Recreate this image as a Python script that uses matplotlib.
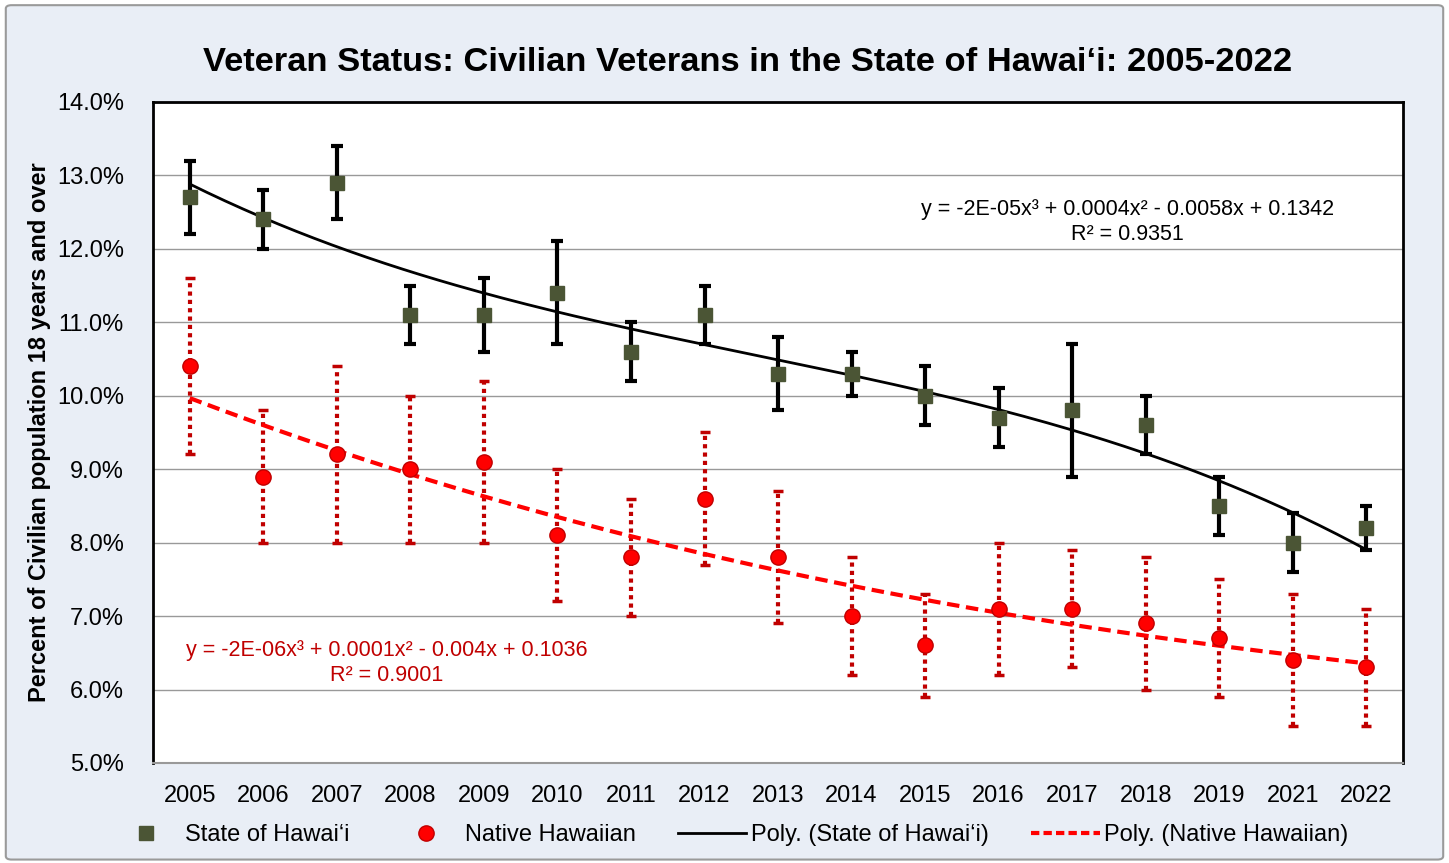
import numpy as np
import matplotlib.pyplot as plt
from matplotlib.lines import Line2D
from matplotlib.patches import FancyBboxPatch

plt.rcParams['font.family'] = ['Liberation Sans', 'DejaVu Sans']

"""
Data (percent of civilian population 18+ who are veterans)
"""
years = ['2005', '2006', '2007', '2008', '2009', '2010', '2011', '2012', '2013',
         '2014', '2015', '2016', '2017', '2018', '2019', '2021', '2022']

state = [12.7, 12.4, 12.9, 11.1, 11.1, 11.4, 10.6, 11.1, 10.3, 10.3, 10.0, 9.7,
         9.8, 9.6, 8.5, 8.0, 8.2]
state_hi = [13.2, 12.8, 13.4, 11.5, 11.6, 12.1, 11.0, 11.5, 10.8, 10.6, 10.4, 10.1,
            10.7, 10.0, 8.9, 8.4, 8.5]
state_lo = [12.2, 12.0, 12.4, 10.7, 10.6, 10.7, 10.2, 10.7, 9.8, 10.0, 9.6, 9.3,
            8.9, 9.2, 8.1, 7.6, 7.9]

native = [10.4, 8.9, 9.2, 9.0, 9.1, 8.1, 7.8, 8.6, 7.8, 7.0, 6.6, 7.1, 7.1, 6.9,
          6.7, 6.4, 6.3]
native_hi = [11.6, 9.8, 10.4, 10.0, 10.2, 9.0, 8.6, 9.5, 8.7, 7.8, 7.3, 8.0, 7.9,
             7.8, 7.5, 7.3, 7.1]
native_lo = [9.2, 8.0, 8.0, 8.0, 8.0, 7.2, 7.0, 7.7, 6.9, 6.2, 5.9, 6.2, 6.3, 6.0,
             5.9, 5.5, 5.5]

yticks = [5, 6, 7, 8, 9, 10, 11, 12, 13, 14]

state_eq = 'y = -2E-05x³ + 0.0004x² - 0.0058x + 0.1342\nR² = 0.9351'
native_eq = 'y = -2E-06x³ + 0.0001x² - 0.004x + 0.1036\nR² = 0.9001'

"""
Figure
"""
bg = '#E9EEF6'
olive = '#4B5535'
red = '#FF0000'
dkred = '#C00000'

fig = plt.figure(figsize=(14.49, 8.63), dpi=100)
fig.patch.set_facecolor('white')
frame = FancyBboxPatch((0.004, 0.004), 0.992, 0.990, boxstyle='round,pad=0,rounding_size=0.004',
                       transform=fig.transFigure, facecolor=bg, edgecolor='#9A9A9A',
                       linewidth=1.5, zorder=-10)
fig.patches.append(frame)

ax = fig.add_axes([0.1056, 0.1159, 0.8627, 0.766])
ax.set_facecolor('white')

x = np.arange(len(years))
s = np.array(state)
n = np.array(native)

# error bars
ax.errorbar(x, s, yerr=[s - np.array(state_lo), np.array(state_hi) - s], fmt='none',
            ecolor='black', elinewidth=3, capsize=4.5, capthick=3, zorder=3)
eb = ax.errorbar(x, n, yerr=[n - np.array(native_lo), np.array(native_hi) - n], fmt='none',
                 ecolor=dkred, elinewidth=3, capsize=3.5, capthick=2.5, zorder=3)
for lc in eb[2]:
    lc.set_linestyle((0, (1, 1)))

# cubic trendlines (Excel style, x = 1..17)
xp = np.arange(1, len(years) + 1)
xs = np.linspace(1, len(years), 200)
ps = np.polyfit(xp, s, 3)
pn = np.polyfit(xp, n, 3)
ax.plot(xs - 1, np.polyval(ps, xs), color='black', lw=2, zorder=4)
ax.plot(xs - 1, np.polyval(pn, xs), color=red, lw=3, ls=(0, (3, 1.6)), zorder=4)

# markers
ax.plot(x, s, ls='none', marker='s', ms=10.5, color=olive, zorder=5)
ax.plot(x, n, ls='none', marker='o', ms=11, color=red, mec=dkred, mew=1, zorder=5)

ax.set_xlim(-0.5, len(years) - 0.5)
ax.set_ylim(5, 14)
ax.set_yticks(yticks)
ax.set_yticklabels(['%.1f%%' % v for v in yticks])
ax.set_xticks(x)
ax.set_xticklabels(years)
ax.tick_params(axis='both', length=0, labelsize=17)
ax.tick_params(axis='x', pad=16)
ax.tick_params(axis='y', pad=21)
ax.grid(axis='y', color='#999999', lw=1)
ax.set_axisbelow(True)
for sp in ['left', 'top', 'right']:
    ax.spines[sp].set_linewidth(2)
ax.spines['bottom'].set_color('#999999')
ax.spines['bottom'].set_linewidth(1.5)

ax.set_ylabel('Percent of Civilian population 18 years and over', fontsize=17,
              fontweight='bold', labelpad=4)
fig.suptitle('Veteran Status: Civilian Veterans in the State of Hawai‘i: 2005-2022',
             fontsize=24.8, fontweight='bold', x=0.516, y=0.928, va='center')

ax.text(12.75, 12.37, state_eq, fontsize=15.5, ha='center', va='center', linespacing=1.25)
ax.text(2.68, 6.36, native_eq, fontsize=15.5, ha='center', va='center', color=dkred,
        linespacing=1.25)

handles = [
    Line2D([], [], ls='none', marker='s', ms=10.5, color=olive),
    Line2D([], [], ls='none', marker='o', ms=11, color=red, mec=dkred),
    Line2D([], [], color='black', lw=2),
    Line2D([], [], color=red, lw=3, ls=(0, (2, 1))),
]
labels = ['State of Hawai‘i', 'Native Hawaiian', 'Poly. (State of Hawai‘i)',
          'Poly. (Native Hawaiian)']
fig.legend(handles, labels, loc='center', bbox_to_anchor=(0.504, 0.032), ncol=4,
           frameon=False, fontsize=17, handlelength=2.9, handletextpad=0.2,
           columnspacing=1.78)

fig.savefig('out.png', dpi=100, facecolor=fig.get_facecolor())
